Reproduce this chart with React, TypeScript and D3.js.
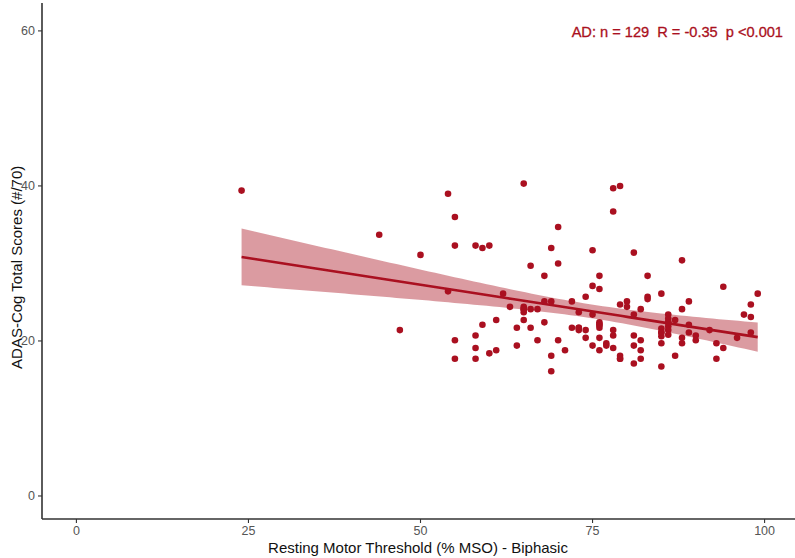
import React from "react";
import * as d3 from "d3";

const W = 795;
const H = 558;

// Resting motor threshold (% MSO) per participant
const rmt: number[] = [
  24, 44, 47, 50, 54, 54, 55, 55, 55, 55,
  58, 58, 58, 58, 59, 59, 60, 60, 61, 61,
  62, 63, 64, 64, 65, 65, 65, 65, 65, 66,
  66, 66, 67, 67, 68, 68, 68, 69, 69, 69,
  69, 70, 70, 70, 71, 72, 72, 73, 73, 73,
  74, 74, 74, 75, 75, 75, 75, 76, 76, 76,
  76, 76, 76, 76, 77, 77, 78, 78, 78, 78,
  78, 79, 79, 79, 79, 80, 80, 81, 81, 81,
  81, 81, 82, 82, 82, 82, 83, 83, 83, 85,
  85, 85, 85, 85, 85, 86, 86, 86, 86, 86,
  86, 87, 87, 88, 88, 88, 88, 89, 89, 89,
  90, 90, 92, 93, 93, 94, 94, 96, 97, 98,
  98, 98, 99, 76, 86, 85, 73, 65, 79,
];

// ADAS-Cog total scores (#/70)
const adas: number[] = [
  39.4, 33.7, 21.4, 31.1, 39.0, 26.4, 36.0, 32.3, 20.1, 17.7,
  32.3, 20.7, 19.1, 17.7, 32.0, 22.1, 32.3, 18.4, 22.7, 18.8,
  26.1, 24.4, 21.7, 19.4, 40.3, 24.4, 24.1, 23.7, 22.7, 29.7,
  24.1, 21.7, 24.1, 20.1, 28.4, 25.1, 22.4, 32.0, 25.1, 18.1,
  16.1, 34.7, 30.0, 20.1, 18.8, 25.1, 21.7, 23.7, 21.7, 21.4,
  25.7, 21.4, 20.4, 31.7, 27.1, 23.4, 19.4, 28.4, 26.7, 22.4,
  22.1, 21.7, 20.4, 18.8, 19.7, 19.4, 39.7, 36.7, 21.4, 20.7,
  19.1, 40.0, 24.7, 18.1, 17.7, 25.1, 24.4, 31.4, 23.4, 20.7,
  19.4, 17.1, 24.1, 20.1, 18.8, 17.7, 28.4, 25.7, 25.4, 26.1,
  21.6, 21.1, 20.6, 19.7, 16.7, 23.4, 22.9, 22.4, 21.9, 21.4,
  20.8, 22.7, 18.1, 30.4, 24.1, 20.4, 19.7, 25.1, 22.1, 21.1,
  20.7, 20.1, 21.4, 19.7, 17.7, 27.0, 19.1, 20.4, 23.4, 24.7,
  23.1, 21.1, 26.1, 22.1, 22.4, 21.1, 21.7, 24.1, 17.7,
];

const xTicks = [0, 25, 50, 75, 100];
const yTicks = [0, 20, 40, 60];
const annotation = "AD: n = 129  R = -0.35  p <0.001";
const xTitle = "Resting Motor Threshold (% MSO) - Biphasic";
const yTitle = "ADAS-Cog Total Scores (#/70)";

const RED = "#AA1020";

function fit(xs: number[], ys: number[]) {
  const n = xs.length;
  const mx = d3.mean(xs) as number;
  const my = d3.mean(ys) as number;
  let sxx = 0, sxy = 0;
  for (let i = 0; i < n; i++) {
    sxx += (xs[i] - mx) ** 2;
    sxy += (xs[i] - mx) * (ys[i] - my);
  }
  const b = sxy / sxx;
  const a = my - b * mx;
  let sse = 0;
  for (let i = 0; i < n; i++) sse += (ys[i] - a - b * xs[i]) ** 2;
  const s = Math.sqrt(sse / (n - 2));
  const t = 1.979;
  const [x0, x1] = d3.extent(xs) as [number, number];
  const pts = d3.range(0, 81).map((k) => {
    const x = x0 + ((x1 - x0) * k) / 80;
    const yhat = a + b * x;
    const se = s * Math.sqrt(1 / n + (x - mx) ** 2 / sxx);
    return { x, y: yhat, lo: yhat - t * se, hi: yhat + t * se };
  });
  return pts;
}

export default function App() {
  const x = d3.scaleLinear().domain([-5, 105]).range([42, 799]);
  const y = d3.scaleLinear().domain([-2.97, 63.6]).range([519, 3]);
  const pts = fit(rmt, adas);
  const area = d3
    .area<{ x: number; lo: number; hi: number }>()
    .x((d) => x(d.x))
    .y0((d) => y(d.lo))
    .y1((d) => y(d.hi));
  const line = d3
    .line<{ x: number; y: number }>()
    .x((d) => x(d.x))
    .y((d) => y(d.y));
  const font = "'Liberation Sans', Arial, sans-serif";

  return (
    <svg
      width={W}
      height={H}
      style={{ position: "absolute", left: 0, top: 0, background: "#fff" }}
      fontFamily={font}
    >
      <rect width={W} height={H} fill="#fff" />
      <path d={area(pts) as string} fill={RED} fillOpacity={0.42} />
      <path d={line(pts) as string} fill="none" stroke={RED} strokeWidth={2.6} />
      {rmt.map((v, i) => (
        <circle key={i} cx={x(v)} cy={y(adas[i])} r={3.3} fill={RED} />
      ))}
      {/* axes */}
      <line x1={42} x2={42} y1={3} y2={519} stroke="#333" strokeWidth={1.6} />
      <line x1={42} x2={W} y1={519} y2={519} stroke="#333" strokeWidth={1.6} />
      {xTicks.map((t) => (
        <g key={"x" + t}>
          <line x1={x(t)} x2={x(t)} y1={519} y2={523} stroke="#333" strokeWidth={1.1} />
          <text x={x(t)} y={535} textAnchor="middle" fontSize={12.5} fill="#555">
            {t}
          </text>
        </g>
      ))}
      {yTicks.map((t) => (
        <g key={"y" + t}>
          <line x1={38} x2={42} y1={y(t)} y2={y(t)} stroke="#333" strokeWidth={1.1} />
          <text x={35} y={y(t) + 4.5} textAnchor="end" fontSize={12.5} fill="#555">
            {t}
          </text>
        </g>
      ))}
      <text x={418} y={553} textAnchor="middle" fontSize={15} fill="#111">
        {xTitle}
      </text>
      <text
        transform={`translate(22, ${y(29.5)}) rotate(-90)`}
        textAnchor="middle"
        fontSize={15}
        fill="#111"
      >
        {yTitle}
      </text>
      <text
        x={783}
        y={37}
        textAnchor="end"
        fontSize={14.6}
        fill={RED}
        stroke={RED}
        strokeWidth={0.3}
        style={{ whiteSpace: "pre" }}
      >
        {annotation}
      </text>
    </svg>
  );
}
